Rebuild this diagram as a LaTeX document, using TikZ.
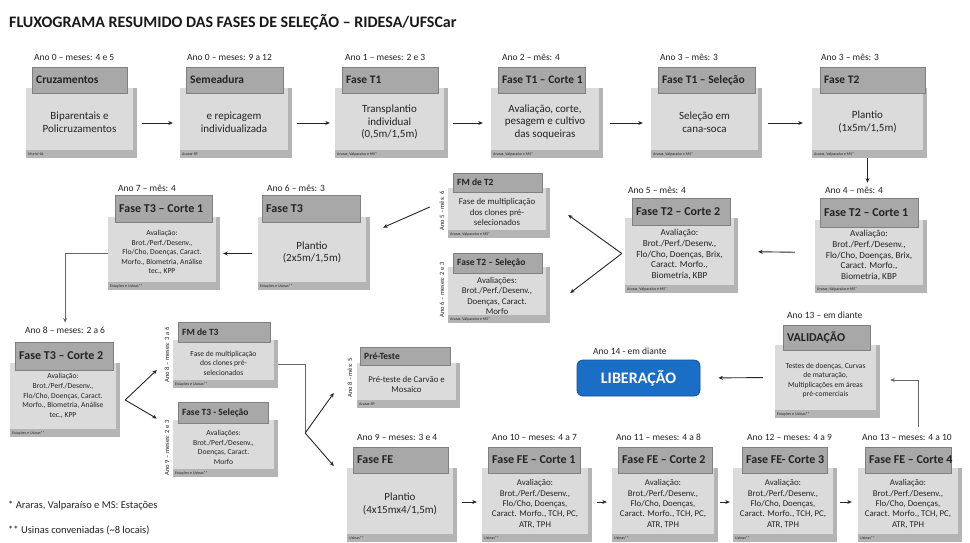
\documentclass[tikz,border=0pt]{standalone}
\usepackage{fontspec}
\setmainfont{Carlito}
\usetikzlibrary{fit,arrows.meta,calc}
\definecolor{hdrc}{RGB}{168,168,168}
\definecolor{hdrl}{RGB}{128,128,128}
\definecolor{bodyc}{RGB}{219,219,219}
\definecolor{shadc}{RGB}{180,180,180}
\definecolor{txtc}{RGB}{35,35,35}
\definecolor{libc}{RGB}{26,110,198}
\definecolor{libl}{RGB}{18,80,152}
\newcommand\fzBig{\fontsize{11}{12.8}\selectfont}
\newcommand\fzMid{\fontsize{9.2}{10.7}\selectfont}
\newcommand\fzMs{\fontsize{8.8}{10.3}\selectfont}
\newcommand\fzSm{\fontsize{7.6}{9.6}\selectfont}
\newcommand\fzHd{\bfseries\fontsize{11.5}{12.5}\selectfont}
\newcommand\fzHe{\bfseries\fontsize{12}{13}\selectfont}
\newcommand\fzHs{\bfseries\fontsize{9.5}{11}\selectfont}
\newcommand\fzLab{\fontsize{9.5}{11}\selectfont}
\newcommand\fzFt{\fontsize{4}{4.5}\selectfont}
\newcommand\fzV{\fontsize{6.5}{7}\selectfont}
\tikzset{
  btxt/.style={align=center, text=txtc, inner sep=0pt},
  ftxt/.style={anchor=west, font=\fzFt, text=txtc, inner sep=0pt},
  htxt/.style={text=txtc, inner sep=0pt},
  lab/.style={anchor=west, font=\fzLab, text=txtc, inner sep=0pt},
  vlab/.style={rotate=90, font=\fzV, text=txtc, inner sep=0pt},
  arr/.style={-{Stealth[length=4.5pt,width=4pt]}, line width=0.9pt, draw=black!85},
  elb/.style={line width=1pt, draw=black!60},
  elbarr/.style={-{Stealth[length=4.5pt,width=4pt]}, line width=1pt, draw=black!60},
  libbox/.style={draw=libl, line width=0.8pt, fill=libc, rounded corners=6pt, text=white,
    font=\bfseries\fontsize{16}{18}\selectfont, inner sep=0pt},
}
% #1 name, #2 x1, #3 y1, #4 x2, #5 y2, #6 text style, #7 text, #8 footer
\newcommand\stage[8]{%
  \fill[shadc] (#2,#3) rectangle (#4,#5);
  \fill[bodyc] (#2,#3) rectangle ({#4-4},{#5-8});
  \coordinate (#1-p) at (#2,#3);
  \coordinate (#1-q) at (#4,#5);
  \node[fit=(#1-p)(#1-q), inner sep=0pt] (#1) {};
  \node[btxt, #6] (#1-t) at ({(#2+#4-4)/2},{(#3+#5-8)/2+3}) {#7};
  \node[ftxt] (#1-f) at ({#2+2},{#5-4}) {#8};
}
% #1 name, #2 x1, #3 y1, #4 x2, #5 y2, #6 text, #7 font
\newcommand\stagehead[7]{%
  \draw[hdrl, fill=hdrc, line width=0.5pt] (#2,#3) rectangle (#4,#5);
  \coordinate (#1-p) at (#2,#3);
  \coordinate (#1-q) at (#4,#5);
  \node[fit=(#1-p)(#1-q), inner sep=0pt] (#1) {};
  \node[htxt, font=#7, anchor=west] (#1-t) at ({#2+4},{(#3+#5)/2}) {#6};
}
\newcommand\evalA{Avaliação:\\Brot./Perf./Desenv.,\\Flo/Cho, Doenças, Brix,\\Caract. Morfo.,\\Biometria, KBP}
\newcommand\evalB{Avaliação:\\Brot./Perf./Desenv.,\\Flo/Cho, Doenças, Caract.\\Morfo., Biometria, Análise\\tec., KPP}
\newcommand\evalC{Avaliações:\\Brot./Perf./Desenv.,\\Doenças, Caract.\\Morfo}
\newcommand\evalD{Avaliação:\\Brot./Perf./Desenv.,\\Flo/Cho, Doenças,\\Caract. Morfo., TCH, PC,\\ATR, TPH}
\newcommand\fmtext{Fase de multiplicação\\dos clones pré-\\selecionados}
\begin{document}
\begin{tikzpicture}[x=1pt,y=-1pt]
\fill[white] (0,0) rectangle (970,542);
\useasboundingbox (0,0) rectangle (970,542);

\node[anchor=west, inner sep=0pt, text=black!90, font=\bfseries\fontsize{16}{18}\selectfont] (title) at (9,22)
  {FLUXOGRAMA RESUMIDO DAS FASES DE SELEÇÃO – RIDESA/UFSCar};

% ---------- row 1 ----------
\stage{c1}{26}{88}{137}{158}{font=\fzBig}{Biparentais e\\Policruzamentos}{Murici-AL}
\stagehead{c1h}{32}{67}{127}{93}{Cruzamentos}{\fzHd}
\node[lab] (c1l) at (34,57) {Ano 0 – meses: 4 e 5};

\stage{c2}{180}{88}{292}{158}{font=\fzBig}{e repicagem\\individualizada}{Araras-SP}
\stagehead{c2h}{186}{67}{283}{93}{Semeadura}{\fzHd}
\node[lab] (c2l) at (187,57) {Ano 0 – meses: 9 a 12};

\stage{c3}{335}{88}{448}{158}{font=\fzBig}{Transplantio\\individual\\(0,5m/1,5m)}{Araras, Valparaíso e MS*}
\stagehead{c3h}{342}{67}{438}{93}{Fase T1}{\fzHd}
\node[lab] (c3l) at (345,57) {Ano 1 – meses: 2 e 3};

\stage{c4}{491}{88}{603}{158}{font=\fzBig}{Avaliação, corte,\\pesagem e cultivo\\das soqueiras}{Araras, Valparaíso e MS*}
\stagehead{c4h}{498}{67}{585}{93}{Fase T1 – Corte 1}{\fzHd}
\node[lab] (c4l) at (502,57) {Ano 2 – mês: 4};

\stage{c5}{651}{88}{762}{158}{font=\fzBig}{Seleção em\\cana-soca}{Araras, Valparaíso e MS*}
\stagehead{c5h}{658}{67}{755}{93}{Fase T1 – Seleção}{\fzHd}
\node[lab] (c5l) at (660,57) {Ano 3 – mês: 3};

\stage{c6}{812}{88}{927}{158}{font=\fzBig}{Plantio\\(1x5m/1,5m)}{Araras, Valparaíso e MS*}
\stagehead{c6h}{820}{67}{925}{93}{Fase T2}{\fzHd}
\node[lab] (c6l) at (821,57) {Ano 3 – mês: 3};

% ---------- row 2 ----------
\stage{c7}{815}{220}{927}{293}{font=\fzMid}{\evalA}{Araras, Valparaíso e MS*}
\stagehead{c7h}{820}{198}{918}{227}{Fase T2 – Corte 1}{\fzHe}
\node[lab] (c7l) at (825,190) {Ano 4 – mês: 4};

\stage{c8}{625}{218}{738}{293}{font=\fzMid}{\evalA}{Araras, Valparaíso e MS*}
\stagehead{c8h}{632}{198}{730}{225}{Fase T2 – Corte 2}{\fzHe}
\node[lab] (c8l) at (628,190) {Ano 5 – mês: 4};

\stage{c9}{448}{188}{550}{238}{font=\fzMs}{\fmtext}{Araras, Valparaíso e MS*}
\stagehead{c9h}{453}{173}{542}{192}{FM de T2}{\fzHs}
\node[vlab] (c9v) at (442,211) {Ano 5 – mês: 6};

\stage{c10}{448}{267}{550}{323}{font=\fzMs, yshift=-2pt}{\evalC}{Araras, Valparaíso e MS*}
\stagehead{c10h}{453}{253}{542}{273}{Fase T2 – Seleção}{\fzHs}
\node[vlab] (c10v) at (442,290) {Ano 6 – meses: 2 e 3};

\stage{c11}{258}{217}{370}{290}{font=\fzBig}{Plantio\\(2x5m/1,5m)}{Estações e Usinas**}
\stagehead{c11h}{262}{195}{360}{222}{Fase T3}{\fzHe}
\node[lab] (c11l) at (267,188) {Ano 6 – mês: 3};

\stage{c12}{108}{217}{220}{290}{font=\fzSm}{\evalB}{Estações e Usinas**}
\stagehead{c12h}{115}{195}{212}{222}{Fase T3 – Corte 1}{\fzHe}
\node[lab] (c12l) at (118,188) {Ano 7 – mês: 4};

% ---------- row 3 ----------
\stage{c13}{10}{363}{120}{437}{font=\fzSm, yshift=3pt}{\evalB}{Estações e Usinas**}
\stagehead{c13h}{15}{342}{113}{370}{Fase T3 – Corte 2}{\fzHe}
\node[lab] (c13l) at (25,330) {Ano 8 – meses: 2 a 6};

\stage{c14}{173}{340}{278}{388}{font=\fzSm}{\fmtext}{Estações e Usinas**}
\stagehead{c14h}{178}{322}{270}{342}{FM de T3}{\fzHs}
\node[vlab] (c14v) at (167,355) {Ano 8 – meses: 3 a 6};

\stage{c15}{173}{420}{278}{477}{font=\fzSm}{\evalC}{Estações e Usinas**}
\stagehead{c15h}{178}{402}{268}{423}{Fase T3 - Seleção}{\fzHs}
\node[vlab] (c15v) at (167,448) {Ano 9 – meses: 2 e 3};

\stage{c16}{357}{363}{460}{408}{font=\fzMs}{Pré-teste de Carvão e\\Mosaico}{Araras-SP}
\stagehead{c16h}{360}{347}{450}{365}{Pré-Teste}{\fzHs}
\node[vlab] (c16v) at (350,378) {Ano 8 – mês: 5};

\stage{c22}{775}{345}{880}{418}{font=\fzSm}{Testes de doenças, Curvas\\de maturação,\\Multiplicações em áreas\\pré-comerciais}{Estações e Usinas**}
\stagehead{c22h}{783}{325}{870}{350}{VALIDAÇÃO}{\fzHe}
\node[lab] (c22l) at (787,315) {Ano 13 – em diante};

\node[libbox, minimum width=123pt, minimum height=36pt] (c23) at (638.5,378) {LIBERAÇÃO};
\node[lab] (c23l) at (593,351) {Ano 14 - em diante};

% ---------- row 4 ----------
\stage{c17}{347}{468}{457}{542}{font=\fzBig}{Plantio\\(4x15mx4/1,5m)}{Usinas**}
\stagehead{c17h}{353}{447}{448}{473}{Fase FE}{\fzHe}
\node[lab] (c17l) at (357,437) {Ano 9 – meses: 3 e 4};

\stage{c18}{482}{468}{592}{542}{font=\fzMs}{\evalD}{Usinas**}
\stagehead{c18h}{488}{447}{580}{473}{Fase FE – Corte 1}{\fzHe}
\node[lab] (c18l) at (492,437) {Ano 10 – meses: 4 a 7};

\stage{c19}{612}{468}{718}{542}{font=\fzMs}{\evalD}{Usinas**}
\stagehead{c19h}{618}{447}{712}{473}{Fase FE – Corte 2}{\fzHe}
\node[lab] (c19l) at (616,437) {Ano 11 – meses: 4 a 8};

\stage{c20}{733}{468}{837}{542}{font=\fzMs}{\evalD}{Usinas**}
\stagehead{c20h}{742}{447}{827}{473}{Fase FE- Corte 3}{\fzHe}
\node[lab] (c20l) at (747,437) {Ano 12 – meses: 4 a 9};

\stage{c21}{858}{468}{962}{542}{font=\fzMs}{\evalD}{Usinas**}
\stagehead{c21h}{865}{447}{951}{473}{Fase FE – Corte 4}{\fzHe}
\node[lab] (c21l) at (862,437) {Ano 13 – meses: 4 a 10};

% ---------- footnotes ----------
\node[lab, font=\fontsize{10.5}{12}\selectfont] (fn1) at (8,506) {* Araras, Valparaíso e MS: Estações};
\node[lab, font=\fontsize{10.5}{12}\selectfont] (fn2) at (8,530) {** Usinas conveniadas (\textasciitilde8 locais)};

% ---------- connectors ----------
\draw[arr, shorten <=5pt, shorten >=7pt] (c1.east) -- (c2.west);
\draw[arr, shorten <=5pt, shorten >=5pt] (c2.east) -- (c3.west);
\draw[arr, shorten <=5pt, shorten >=8pt] (c3.east) -- (c4.west);
\draw[arr, shorten <=7pt, shorten >=8pt] (c4.east) -- (c5.west);
\draw[arr, shorten <=6pt, shorten >=9pt] (c5.east) -- (c6.west);
\draw[arr, shorten >=4pt] ([xshift=-2pt]c6.south) -- ([xshift=-2pt]c6.south |- c7l.north);
\draw[arr, shorten <=20pt, shorten >=20pt] ([yshift=4pt]c7.west) -- ([yshift=4pt]c8.east);
\coordinate (v1) at ([xshift=-3pt,yshift=2pt]c8.west);
\draw[arr] (v1) -- ([xshift=18pt,yshift=-2pt]c9.east);
\draw[arr] (v1) -- ([xshift=20pt,yshift=2pt]c10.east);
\draw[arr] ([xshift=-18pt,yshift=6pt]c9.west) -- ([xshift=13pt,yshift=26pt]c11.east);
\draw[arr, shorten <=6pt, shorten >=3pt] (c11.west) -- (c12.east);
\draw[elbarr, shorten >=4pt] (c12.west) -| (c13l.north);
\coordinate (v2) at ([xshift=5pt]c13.east);
\draw[arr] (v2) -- ([xshift=-16pt,yshift=-6pt]c14.west);
\draw[arr] (v2) -- ([xshift=-16pt,yshift=30pt]c15.west);
\coordinate (v3) at ([xshift=27pt,yshift=-69pt]c14.east);
\draw[elb] (c14.east) -| (v3);
\draw[arr] (v3) -- ([xshift=-23pt,yshift=-7.5pt]c16.west);
\draw[arr] (v3) -- ([xshift=-13pt,yshift=39pt]c17.west);
\draw[arr, shorten <=5pt, shorten >=5pt] ([yshift=3pt]c17.east) -- ([yshift=3pt]c18.west);
\draw[arr, shorten <=5pt, shorten >=5pt] ([yshift=3pt]c18.east) -- ([yshift=3pt]c19.west);
\draw[arr, shorten <=2pt, shorten >=3pt] ([yshift=3pt]c19.east) -- ([yshift=3pt]c20.west);
\draw[arr, shorten <=3pt, shorten >=6pt] ([yshift=3pt]c20.east) -- ([yshift=3pt]c21.west);
\draw[elbarr] ([xshift=8pt,yshift=41pt]c21.north) |- ([xshift=10pt,yshift=1.5pt]c22.east);
\draw[arr, shorten <=12pt, shorten >=18pt] ([yshift=4pt]c22.west) -- (c23.east);
\end{tikzpicture}
\end{document}
